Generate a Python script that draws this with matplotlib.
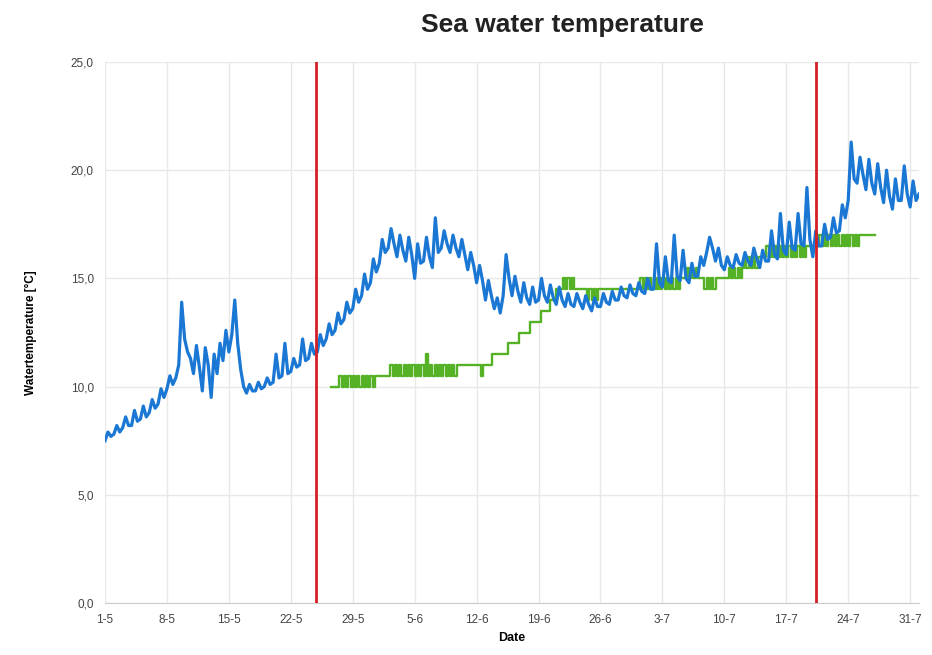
import numpy as np
import matplotlib
matplotlib.use("Agg")
import matplotlib.pyplot as plt

# Sea water temperature, 3 readings per day from 1 May (day 0)
blue_temp = [
    7.5, 7.9, 7.7,  7.8, 8.2, 7.9,  8.1, 8.6, 8.2,  8.2, 8.9, 8.4,
    8.5, 9.1, 8.6,  8.8, 9.4, 9.0,  9.2, 9.9, 9.5,  9.9, 10.5, 10.1,
    10.4, 11.0, 13.9,  12.2, 11.6, 11.3,  10.6, 11.9, 10.9,  9.8, 11.8, 11.0,
    9.5, 11.5, 10.6,  12.0, 11.2, 12.6,  11.6, 12.4, 14.0,  12.0, 10.8, 10.0,
    9.7, 10.1, 9.8,  9.8, 10.2, 9.9,  10.0, 10.4, 10.1,  10.2, 11.5, 10.4,
    10.5, 12.0, 10.6,  10.7, 11.3, 10.9,  11.0, 12.2, 11.2,  11.3, 12.0, 11.5,
    11.6, 12.4, 11.9,  12.2, 12.9, 12.4,  12.6, 13.4, 12.9,  13.1, 13.9, 13.4,
    13.6, 14.5, 13.9,  14.2, 15.2, 14.5,  14.8, 15.9, 15.3,  15.7, 16.8, 16.2,
    16.4, 17.3, 16.6,  16.0, 17.0, 16.3,  15.8, 16.9, 16.1,  15.0, 16.6, 15.7,
    15.8, 16.9, 16.0,  15.5, 17.8, 16.2,  16.4, 17.2, 16.6,  16.2, 17.0, 16.4,
    16.0, 16.8, 16.1,  15.4, 16.2, 15.6,  14.8, 15.6, 14.9,  14.0, 14.9, 14.2,
    13.6, 14.1, 13.4,  14.2, 16.1, 15.0,  14.2, 15.1, 14.4,  13.9, 14.8, 14.1,
    13.8, 14.6, 13.9,  14.0, 15.0, 14.2,  13.9, 14.7, 14.1,  13.8, 14.6, 14.0,
    13.7, 14.3, 13.8,  13.7, 14.3, 13.9,  13.6, 14.2, 13.8,  13.5, 14.1, 13.7,
    13.7, 14.3, 13.9,  13.8, 14.4, 14.0,  14.0, 14.6, 14.2,  14.1, 14.7, 14.3,
    14.2, 14.8, 14.4,  14.3, 15.0, 14.5,  14.5, 16.6, 14.8,  14.6, 16.0, 14.9,
    14.8, 17.0, 15.1,  14.9, 16.3, 15.0,  14.8, 15.7, 15.1,  15.1, 16.0, 15.6,
    16.2, 16.9, 16.4,  15.8, 16.4, 15.6,  15.4, 16.0, 15.6,  15.5, 16.1, 15.7,
    15.6, 16.2, 15.8,  15.6, 16.4, 15.9,  15.5, 16.3, 15.8,  15.8, 17.2, 16.1,
    15.9, 18.0, 16.3,  16.1, 17.6, 16.4,  16.3, 18.0, 16.6,  16.5, 19.2, 16.8,
    16.0, 17.2, 16.5,  16.5, 17.5, 16.8,  16.9, 17.8, 17.1,  17.2, 18.4, 17.8,
    18.6, 21.3, 19.6,  19.4, 20.6, 19.8,  19.1, 20.5, 19.4,  18.9, 20.3, 19.2,
    18.5, 20.0, 18.8,  18.2, 19.6, 18.6,  18.6, 20.2, 18.9,  18.3, 19.5, 18.6,
    18.9,
]
blue_step = 1 / 3

# second sensor, 4 readings per day starting 26 May (day 25.5), 0.5 degree resolution
green_start = 25.5
green_temp = [
    10.0, 10.0, 10.0, 10.0,
    10.5, 10.0, 10.5, 10.0,  10.5, 10.0, 10.5, 10.0,  10.5, 10.0, 10.5, 10.0,
    10.5, 10.0, 10.5, 10.0,  10.5, 10.5, 10.5, 10.5,  10.5, 10.5, 10.5, 11.0,
    10.5, 11.0, 10.5, 11.0,  10.5, 11.0, 10.5, 11.0,  10.5, 11.0, 10.5, 11.0,
    10.5, 11.0, 10.5, 11.5,  10.5, 11.0, 10.5, 11.0,  10.5, 11.0, 10.5, 11.0,
    10.5, 11.0, 10.5, 11.0,  10.5, 11.0, 11.0, 11.0,  11.0, 11.0, 11.0, 11.0,
    11.0, 11.0, 11.0, 11.0,  10.5, 11.0, 11.0, 11.0,  11.0, 11.5, 11.5, 11.5,
    11.5, 11.5, 11.5, 11.5,  12.0, 12.0, 12.0, 12.0,  12.0, 12.5, 12.5, 12.5,
    12.5, 12.5, 13.0, 13.0,  13.0, 13.0, 13.0, 13.5,  13.5, 13.5, 13.5, 14.0,
    14.0, 14.0, 14.5, 14.5,  14.5, 15.0, 14.5, 15.0,  14.5, 15.0, 14.5, 14.5,
    14.5, 14.5, 14.5, 14.5,  14.0, 14.5, 14.0, 14.5,  14.0, 14.5, 14.5, 14.5,
    14.5, 14.5, 14.5, 14.5,  14.5, 14.5, 14.5, 14.5,  14.5, 14.5, 14.5, 14.5,
    14.5, 14.5, 14.5, 14.5,  15.0, 14.5, 15.0, 14.5,  15.0, 14.5, 15.0, 14.5,
    15.0, 14.5, 15.0, 14.5,  15.0, 14.5, 15.0, 14.5,  15.0, 14.5, 15.0, 15.0,
    15.0, 15.5, 15.0, 15.5,  15.0, 15.5, 15.0, 15.0,  15.0, 14.5, 15.0, 14.5,
    15.0, 14.5, 15.0, 15.0,  15.0, 15.0, 15.0, 15.0,  15.5, 15.0, 15.5, 15.0,
    15.5, 15.0, 15.5, 16.0,  15.5, 16.0, 15.5, 16.0,  15.5, 16.0, 16.0, 16.0,
    16.0, 16.5, 16.0, 16.5,  16.0, 16.5, 16.0, 16.5,  16.0, 16.5, 16.0, 16.5,
    16.0, 16.5, 16.0, 16.5,  16.0, 16.5, 16.0, 16.5,  16.5, 16.5, 16.5, 16.5,
    16.5, 17.0, 16.5, 17.0,  16.5, 17.0, 16.5, 17.0,  16.5, 17.0, 16.5, 17.0,
    16.5, 17.0, 16.5, 17.0,  16.5, 17.0, 16.5, 17.0,  17.0, 17.0, 17.0, 17.0,
    17.0, 17.0, 17.0,
]
green_step = 0.25

# period markers (days after 1 May)
marker_days = [23.9, 80.4]

tick_days = [0, 7, 14, 21, 28, 35, 42, 49, 56, 63, 70, 77, 84, 91]
tick_labels = ["1-5", "8-5", "15-5", "22-5", "29-5", "5-6", "12-6", "19-6",
               "26-6", "3-7", "10-7", "17-7", "24-7", "31-7"]
y_ticks = [0, 5, 10, 15, 20, 25]
y_labels = ["0,0", "5,0", "10,0", "15,0", "20,0", "25,0"]

plt.rcParams["font.family"] = ["Liberation Sans", "DejaVu Sans"]

fig = plt.figure(figsize=(9.32, 6.55), dpi=100)
ax = fig.add_axes([105 / 932, 1 - 603 / 655, 814 / 932, 541 / 655])

bx = np.arange(len(blue_temp)) * blue_step
gx = green_start + np.arange(len(green_temp)) * green_step

ax.plot(gx, green_temp, color="#55b226", lw=1.7, drawstyle="steps-post", zorder=2)
ax.plot(bx, blue_temp, color="#1a78d4", lw=2.3, zorder=3)
for d in marker_days:
    ax.axvline(d, color="#d41f26", lw=2, zorder=4)

ax.set_xlim(0, 92)
ax.set_ylim(0, 25)
ax.set_xticks(tick_days)
ax.set_xticklabels(tick_labels)
ax.set_yticks(y_ticks)
ax.set_yticklabels(y_labels)
ax.tick_params(length=0, labelsize=8.5, labelcolor="#444444", pad=8)
ax.grid(True, color="#e8e8e8", lw=1)
ax.set_axisbelow(True)
for s in ["top", "right", "left"]:
    ax.spines[s].set_visible(False)
ax.spines["bottom"].set_color("#cccccc")

ax.set_xlabel("Date", fontsize=9, fontweight="bold", labelpad=4)
ax.set_ylabel("Watertemperature [°C]", fontsize=8.5, fontweight="bold", labelpad=24)
fig.text(562 / 932, 1 - 25 / 655, "Sea water temperature", fontsize=19,
         fontweight="bold", ha="center", va="center", color="#222222")

fig.savefig("out.png", dpi=100)
